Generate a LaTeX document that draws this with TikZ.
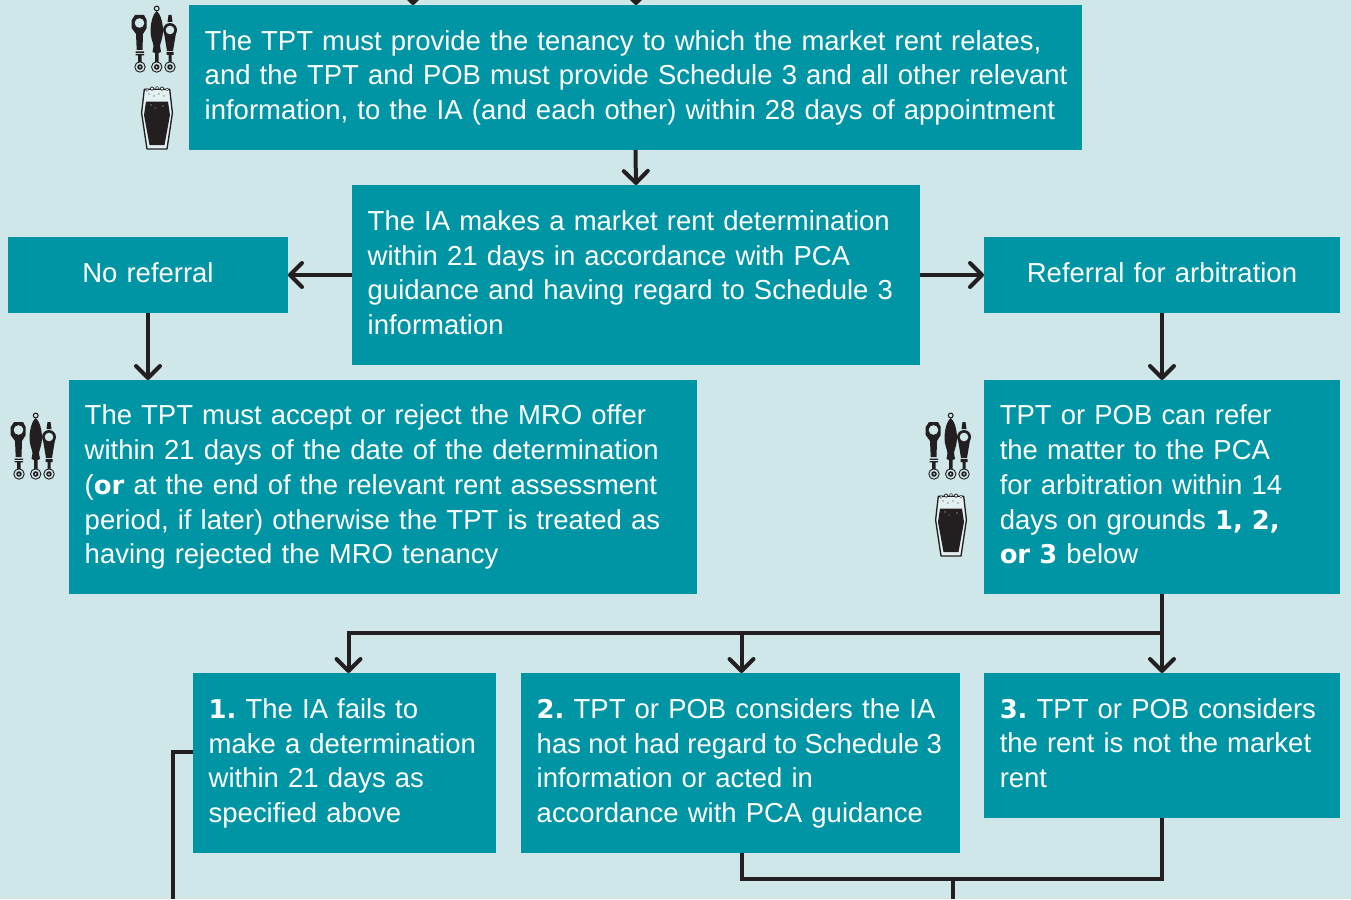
\documentclass[tikz,border=0pt]{standalone}
\usepackage{fontspec}
\setmainfont{Liberation Sans}
\newfontfamily\heavyfont[Scale=0.94]{DejaVu Sans Bold}
\usetikzlibrary{arrows.meta}
\definecolor{pagebg}{HTML}{D0E7E9}
\definecolor{boxteal}{HTML}{0095A4}
\definecolor{inkdark}{HTML}{231F20}
\newcommand{\hv}[1]{{\heavyfont #1}}
\tikzset{
    flowbox/.style 2 args={fill=boxteal, text=white, anchor=north west, align=left, inner xsep=11.8pt, inner ysep=0pt, outer sep=0pt,
        text width=(#1-31.5)*0.75pt, minimum height=#2*0.75pt, font=\fontsize{20.6}{26.06}\selectfont\frenchspacing,
        execute at begin node={\rule{0pt}{18.2pt}}, execute at end node={\rule[-7.1pt]{0pt}{7.1pt}}},
    link/.style={inkdark, line width=3pt},
    arrowlink/.style={link, -{Straight Barb[length=9pt, width=18pt, line width=3pt, round]}},
    taps/.pic={
        \fill[inkdark] (0.7,14) -- (4,9) -- (13,9) -- (15.7,14) -- (15.7,22) -- (12,28) -- (11.5,44) -- (5.7,44) -- (5,28) -- (0.7,22) -- cycle;
        \fill[pagebg] (8.5,17) circle (4.8);
        \fill[inkdark] (4.5,45.5) rectangle (13,46.8) (4.5,48) rectangle (13,49.3) (7,49) rectangle (10.5,56);
        \draw[inkdark, line width=0.8pt] (25.7,2.5) circle (2.4);
        \fill[inkdark] (25.7,5) .. controls (29,7) and (32,16) .. (32,25) .. controls (32,32) and (29.5,36) .. (29,40) -- (30,46) -- (27.5,47) -- (27.5,56) -- (24,56) -- (24,47) -- (21.5,46) -- (22.5,40) .. controls (22,36) and (19.5,32) .. (19.5,25) .. controls (19.5,16) and (22.5,7) .. (25.7,5) -- cycle;
        \fill[inkdark] (37.5,9) -- (40.5,9) -- (41.5,16) -- (36.5,16) -- cycle;
        \fill[inkdark] (39,24) circle (7);
        \fill[inkdark] (33,27) -- (45,27) -- (42,45) -- (36,45) -- cycle;
        \fill[pagebg] (39,24) circle (4.3);
        \fill[inkdark] (35.5,46) rectangle (42.5,49) (37.5,49) rectangle (40.7,56);
        \draw[inkdark, line width=0.7pt] (9,61) circle (5.2) (25.7,61) circle (5.2) (39,61) circle (5.2);
        \fill[inkdark] (9,61) circle (2.8) (25.7,61) circle (2.8) (39,61) circle (2.8);
        \fill[pagebg] (9,61) circle (1) (25.7,61) circle (1) (39,61) circle (1);
    },
    pint/.pic={
        \draw[inkdark, line width=1pt, fill=pagebg!60!white, line join=round] (3.3,3.3) -- (0.6,27) -- (6,63) -- (26,63) -- (31.4,27) -- (28.7,3.3) -- cycle;
        \fill[inkdark] (5,15.6) -- (3,29) -- (8.5,59) -- (23.5,59) -- (29,29) -- (27,15.6) -- cycle;
        \fill[inkdark] (6,4) circle (1.6) (11,2.6) circle (2) (16,2) circle (1.8) (21,2.6) circle (2) (26,3.6) circle (1.6);
        \fill[pagebg!60!white] (6,4) circle (1) (11,2.6) circle (1.3) (16,2) circle (1.1) (21,2.6) circle (1.3) (26,3.6) circle (1);
        \fill[inkdark] (8,8) circle (0.6) (13,10) circle (0.6) (18,8) circle (0.6) (23,10) circle (0.6);
        \fill[pagebg] (10,19) circle (0.7) (14,22) circle (0.5) (22,20) circle (0.7);
    }
}

\begin{document}
\begin{tikzpicture}[x=0.75pt, y=-0.75pt]
\useasboundingbox (0,0) rectangle (1351,899);
\fill[pagebg] (0,0) rectangle (1351,899);

\node[flowbox={893}{145}] (tenancy) at (189,5) {The TPT must provide the tenancy to which the market rent relates,\\\mbox{and the TPT and POB must provide Schedule 3 and all other relevant}\\information, to the IA (and each other) within 28 days of appointment};
\node[flowbox={568}{180}] (determination) at (352,185) {The IA makes a market rent determination\\within 21 days in accordance with PCA\\guidance and having regard to Schedule 3\\information};
\node[flowbox={280}{76}, align=center] (noreferral) at (8,237) {No referral};
\node[flowbox={356}{76}, align=center] (referral) at (984,237) {Referral for arbitration};
\node[flowbox={628}{214}] (accept) at (69,380) {The TPT must accept or reject the MRO offer\\within 21 days of the date of the determination\\(\hv{or} at the end of the relevant rent assessment\\period, if later) otherwise the TPT is treated as\\having rejected the MRO tenancy};
\node[flowbox={356}{214}] (refer) at (984,380) {TPT or POB can refer\\the matter to the PCA\\for arbitration within 14\\days on grounds \hv{1, 2,}\\\hv{or 3} below};
\node[flowbox={303}{180}] (groundone) at (193,673) {\hv{1.} The IA fails to\\make a determination\\within 21 days as\\specified above};
\node[flowbox={439}{180}] (groundtwo) at (521,673) {\hv{2.} TPT or POB considers the IA\\\mbox{\spaceskip=5.6pt has not had regard to Schedule 3}\\information or acted in\\accordance with PCA guidance};
\node[flowbox={356}{145}] (groundthree) at (984,673) {\hv{3.} TPT or POB considers\\the rent is not the market\\rent};

\pic at (131,6) {taps};
\pic at (141,86) {pint};
\pic at (10,413) {taps};
\pic at (925,413) {taps};
\pic at (935,493) {pint};

\coordinate (topleft) at (413,-20);
\coordinate (topleftend) at (413,5);
\coordinate (topright) at (636,-20);
\coordinate (toprightend) at (636,5);
\coordinate (bus) at (1162,633);
\coordinate (oneend) at (348.5,673);
\coordinate (twoend) at (741.5,673);
\coordinate (leftdown) at (173,899);
\coordinate (joindown) at (953,899);
\coordinate (join) at (953,879);
\coordinate (twoout) at (741.5,853);
\coordinate (oneout) at (193,752);

\draw[arrowlink] (topleft) -- (topleftend);
\draw[arrowlink] (topright) -- (toprightend);
\draw[arrowlink] (tenancy.south) -- (determination.north);
\draw[arrowlink] (determination.west |- noreferral.east) -- (noreferral.east);
\draw[arrowlink] (determination.east |- referral.west) -- (referral.west);
\draw[arrowlink] (noreferral.south) -- (noreferral.south |- accept.north);
\draw[arrowlink] (referral.south) -- (refer.north);
\draw[arrowlink] (refer.south) -- (groundthree.north);
\draw[arrowlink] (bus) -| (oneend);
\draw[arrowlink] (bus) -| (twoend);
\draw[link] (oneout) -| (leftdown);
\draw[link] (twoout) |- (join) -| (groundthree.south);
\draw[link] (join) -- (joindown);
\end{tikzpicture}
\end{document}
